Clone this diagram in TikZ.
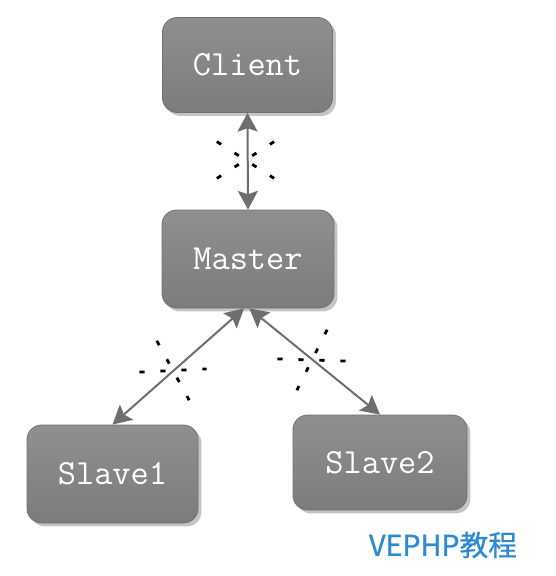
\documentclass[tikz,border=0pt]{standalone}
\usepackage{fontspec}
\newfontfamily\cjk[FakeBold=0.8]{Noto Sans CJK SC}
\usetikzlibrary{arrows.meta,shadows,calc}
\definecolor{boxtop}{HTML}{8F8F8F}
\definecolor{boxbot}{HTML}{7C7C7C}
\definecolor{boxedge}{HTML}{717171}
\definecolor{linkc}{HTML}{6E6E6E}
\definecolor{shadowc}{HTML}{C4C4C4}
\definecolor{wmblue}{HTML}{2A8AD4}
\begin{document}
\begin{tikzpicture}[x=0.75pt,y=-0.75pt,
  serverbox/.style={rectangle, rounded corners=11pt, draw=boxedge, line width=0.6pt,
    top color=boxtop, bottom color=boxbot, text=white,
    font=\ttfamily\fontsize{26.5}{30}\selectfont,
    drop shadow={shadow xshift=2.6pt, shadow yshift=-2.6pt, fill=shadowc, opacity=1}},
  link/.style={draw=linkc, line width=1.5pt,
    {Stealth[length=14pt,width=15pt,inset=2.5pt]}-{Stealth[length=14pt,width=15pt,inset=2.5pt]}},
  breakmark/.style={draw=black, line width=2.1pt, dash pattern=on 3.8pt off 11.95pt,
    shorten <=-1.9pt, shorten >=-1.9pt}
]
\useasboundingbox (0,0) rectangle (556,576);

\node[serverbox, minimum width=127.5pt, minimum height=71.25pt] (client) at (247.5,65) {Client};
\node[serverbox, minimum width=129pt, minimum height=73.5pt] (master) at (248,259) {Master};
\node[serverbox, minimum width=128.25pt, minimum height=73.5pt] (slave1) at (112.5,474) {Slave1};
\node[serverbox, minimum width=130.5pt, minimum height=71.25pt] (slave2) at (380,462.5) {Slave2};

\draw[link] (client.south) -- (master.north);
\draw[link] ([xshift=-3pt]master.south) -- (slave1.north);
\draw[link] ([xshift=1pt]master.south) -- (slave2.north);

% break marks
\draw[breakmark] (219,143) -- (272,177);
\draw[breakmark] (272,143) -- (219,177);
\draw[breakmark] (158,343) -- (188,398);
\draw[breakmark] (142,372) -- (204,369);
\draw[breakmark] (326,332) -- (298,388);
\draw[breakmark] (280,359) -- (343,361);

\node[text=wmblue, font=\cjk\fontsize{21.5}{24}\selectfont, inner sep=0pt] (wm) at (443,545) {VEPHP教程};
\end{tikzpicture}
\end{document}
